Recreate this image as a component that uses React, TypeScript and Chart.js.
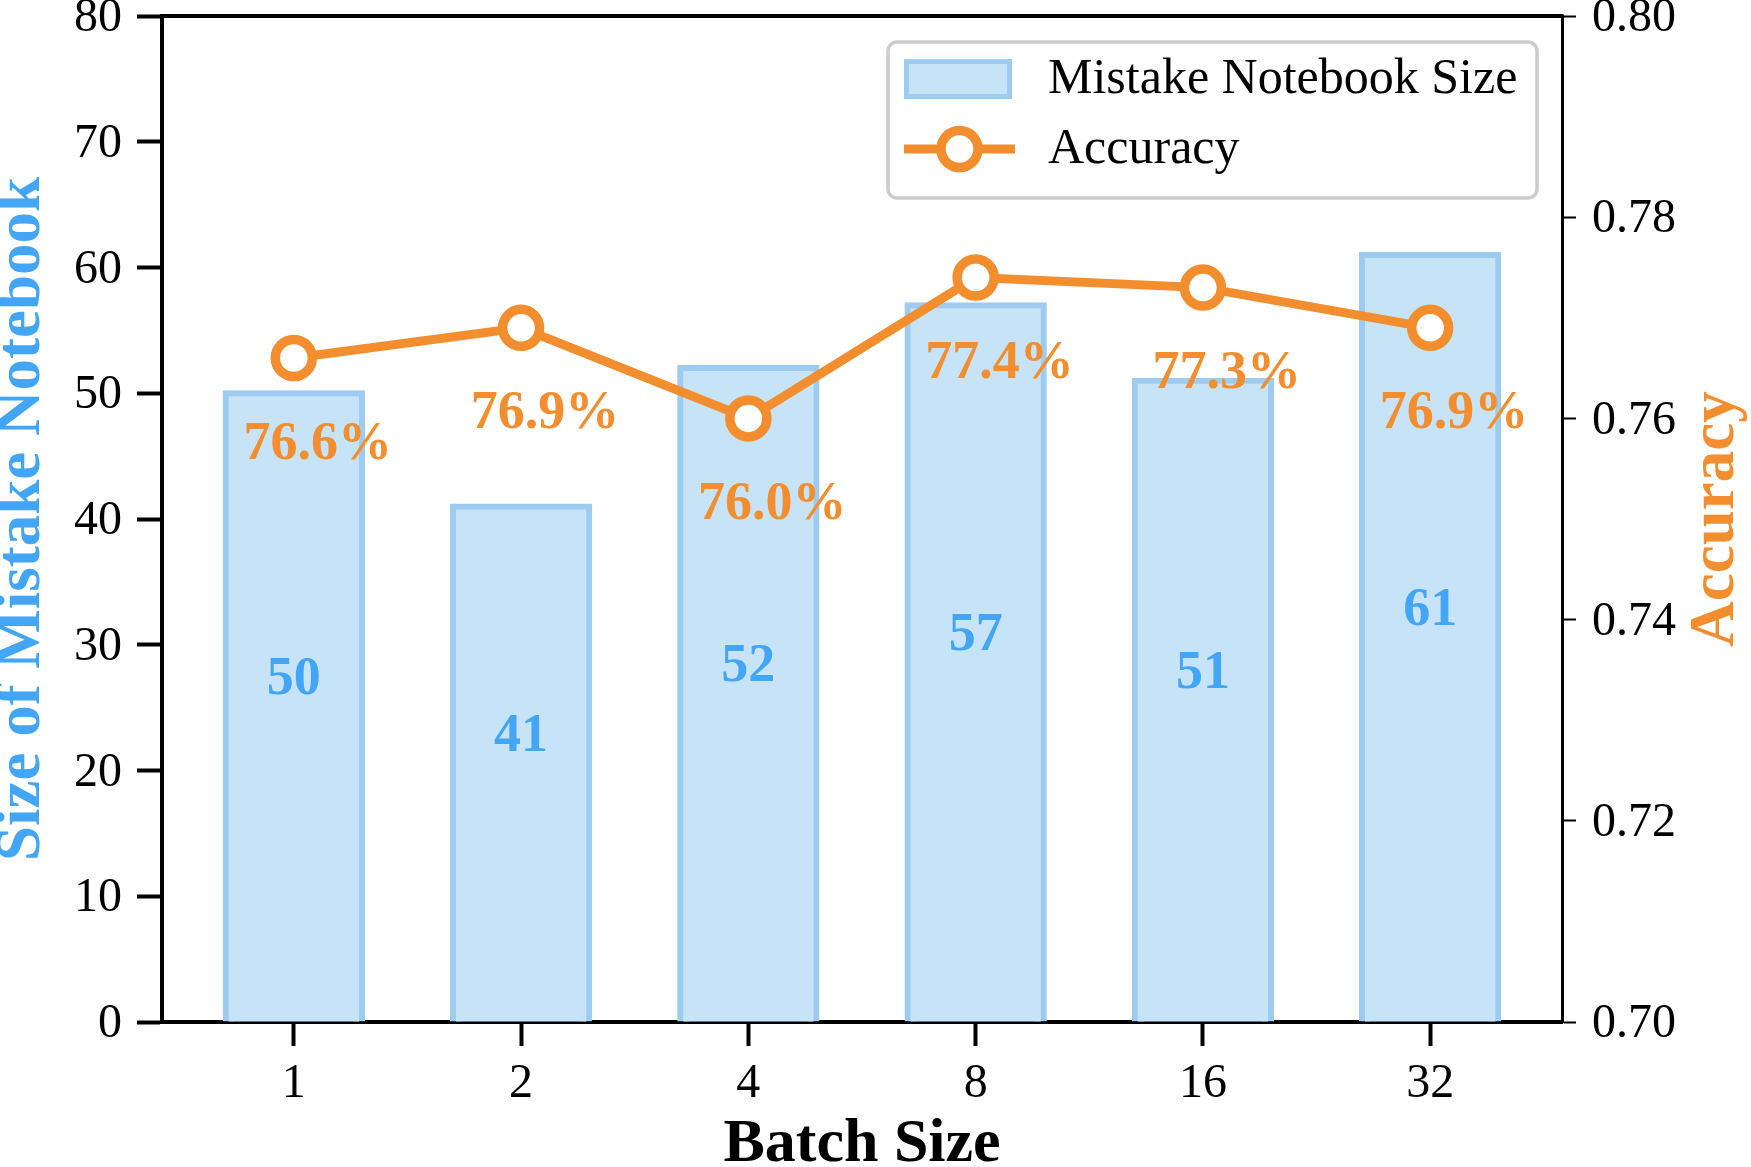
import React, { useEffect, useRef } from "react";
import { Chart, registerables } from "chart.js";

Chart.register(...registerables);

const batchSizes = ["1", "2", "4", "8", "16", "32"];
const notebookSizes = [50, 41, 52, 57, 51, 61];
const accuracy = [0.766, 0.769, 0.760, 0.774, 0.773, 0.769];
const leftTicks = [0, 10, 20, 30, 40, 50, 60, 70, 80];
const rightTicks = [0.70, 0.72, 0.74, 0.76, 0.78, 0.80];

const FONT = "'Liberation Serif', 'Times New Roman', serif";
const BLUE = "#42a5f5";
const BAR_FILL = "rgb(198,227,247)";
const BAR_EDGE = "rgb(158,203,240)";
const ORANGE = "#f28e2e";

const overlayPlugin = {
  id: "overlay",
  afterDatasetsDraw(chart: any) {
    const { ctx, scales } = chart;
    const xs = scales.x, ys = scales.y, y1 = scales.y1;
    ctx.save();
    ctx.font = `bold 54px ${FONT}`;
    ctx.fillStyle = BLUE;
    ctx.textAlign = "center";
    ctx.textBaseline = "middle";
    notebookSizes.forEach((v, i) => {
      ctx.fillText(String(v), xs.getPixelForValue(i), ys.getPixelForValue(v / 2 + 2.2));
    });
    ctx.fillStyle = ORANGE;
    accuracy.forEach((v, i) => {
      ctx.fillText(`${(v * 100).toFixed(1)}%`, xs.getPixelForValue(i + 0.105), y1.getPixelForValue(v - 0.0086));
    });
    ctx.restore();
  },
  afterDraw(chart: any) {
    const { ctx, chartArea } = chart;
    ctx.save();
    ctx.strokeStyle = "#000";
    ctx.lineWidth = 4;
    ctx.beginPath();
    ctx.moveTo(chartArea.left - 2, chartArea.top);
    ctx.lineTo(chartArea.right + 1.5, chartArea.top);
    ctx.stroke();

    ctx.save();
    ctx.translate(chartArea.right + 155, (chartArea.top + chartArea.bottom) / 2);
    ctx.rotate(-Math.PI / 2);
    ctx.font = `bold 63px ${FONT}`;
    ctx.fillStyle = ORANGE;
    ctx.textAlign = "center";
    ctx.textBaseline = "middle";
    ctx.fillText("Accuracy", 0, 0);
    ctx.restore();

    const bw = 649, bh = 156;
    const bx = chartArea.right - 25 - bw;
    const by = chartArea.top + 26;
    ctx.beginPath();
    (ctx as any).roundRect(bx, by, bw, bh, 9);
    ctx.fillStyle = "rgba(255,255,255,0.85)";
    ctx.fill();
    ctx.lineWidth = 3.5;
    ctx.strokeStyle = "#cccccc";
    ctx.stroke();

    const ds = chart.data.datasets;
    const sx = bx + 16;
    const sw = 108;
    const row1 = by + 37;
    const row2 = by + 107;
    ctx.fillStyle = BAR_FILL;
    ctx.fillRect(sx, row1 - 20, sw, 40);
    ctx.lineWidth = 5;
    ctx.strokeStyle = BAR_EDGE;
    ctx.strokeRect(sx + 2.5, row1 - 20 + 2.5, sw - 5, 35);
    ctx.strokeStyle = ORANGE;
    ctx.lineWidth = 9;
    ctx.beginPath();
    ctx.moveTo(sx, row2);
    ctx.lineTo(sx + sw + 3, row2);
    ctx.stroke();
    ctx.beginPath();
    ctx.arc(sx + (sw + 3) / 2, row2, 18.5, 0, Math.PI * 2);
    ctx.fillStyle = "#fff";
    ctx.fill();
    ctx.lineWidth = 9.5;
    ctx.stroke();
    ctx.font = `50px ${FONT}`;
    ctx.fillStyle = "#000";
    ctx.textAlign = "left";
    ctx.textBaseline = "middle";
    ctx.fillText(ds[0].label, bx + 160, row1 + 1);
    ctx.fillText(ds[1].label, bx + 160, row2 + 1);
    ctx.restore();
  },
};

export default function App() {
  const ref = useRef<HTMLCanvasElement>(null);
  useEffect(() => {
    if (!ref.current) return;
    const chart = new Chart(ref.current, {
      type: "bar",
      data: {
        datasets: [
          {
            type: "bar",
            label: "Mistake Notebook Size",
            data: notebookSizes.map((v, i) => ({ x: i, y: v })),
            yAxisID: "y",
            xAxisID: "x",
            backgroundColor: BAR_FILL,
            borderColor: BAR_EDGE,
            borderWidth: 6,
            borderSkipped: "start",
            barPercentage: 0.6,
            categoryPercentage: 1,
            inflateAmount: 3,
            order: 2,
          } as any,
          {
            type: "line",
            label: "Accuracy",
            data: accuracy.map((v, i) => ({ x: i, y: v })),
            yAxisID: "y1",
            xAxisID: "x",
            borderColor: ORANGE,
            borderWidth: 9,
            pointRadius: 18.5,
            pointHoverRadius: 18.5,
            pointBorderWidth: 9.5,
            pointBackgroundColor: "#ffffff",
            pointBorderColor: ORANGE,
            tension: 0,
            clip: false,
            order: 1,
          } as any,
        ],
      },
      options: {
        animation: false,
        responsive: false,
        devicePixelRatio: 1,
        layout: { autoPadding: false, padding: { top: 16, bottom: 0, left: 0, right: 0 } },
        plugins: { legend: { display: false }, tooltip: { enabled: false } },
        scales: {
          x: {
            type: "linear",
            min: -0.58,
            max: 5.58,
            offset: false,
            afterBuildTicks: (s: any) => {
              s.ticks = batchSizes.map((_, i) => ({ value: i }));
            },
            afterFit: (s: any) => {
              s.height = 145;
              s.paddingLeft = 0;
              s.paddingRight = 0;
            },
            ticks: {
              callback: (v: any) => batchSizes[v],
              font: { family: FONT, size: 48 },
              color: "#000",
              padding: 10,
              maxRotation: 0,
              autoSkip: false,
            },
            grid: {
              display: true,
              offset: false,
              drawOnChartArea: false,
              drawTicks: true,
              tickLength: 24,
              tickWidth: 4,
              tickColor: "#000",
            },
            border: { display: true, color: "#000", width: 4 },
            title: {
              display: true,
              text: "Batch Size",
              color: "#000",
              font: { family: FONT, size: 62, weight: "bold", lineHeight: 0.71 },
              padding: 0,
            },
          },
          y: {
            type: "linear",
            position: "left",
            min: 0,
            max: 80,
            afterBuildTicks: (s: any) => {
              s.ticks = leftTicks.map((v) => ({ value: v }));
            },
            afterFit: (s: any) => {
              s.width = 162;
              s.paddingTop = 0;
              s.paddingBottom = 0;
            },
            ticks: {
              font: { family: FONT, size: 48 },
              color: "#000",
              padding: 15,
              labelOffset: 2.5,
            },
            grid: {
              display: true,
              drawOnChartArea: false,
              drawTicks: true,
              tickLength: 25,
              tickWidth: 4,
              tickColor: "#000",
            },
            border: { display: true, color: "#000", width: 4 },
            title: {
              display: true,
              text: "Size of Mistake Notebook",
              color: BLUE,
              font: { family: FONT, size: 63, weight: "bold", lineHeight: 0.71 },
              padding: 0,
            },
          },
          y1: {
            type: "linear",
            position: "right",
            min: 0.7,
            max: 0.8,
            afterBuildTicks: (s: any) => {
              s.ticks = rightTicks.map((v) => ({ value: v }));
            },
            afterFit: (s: any) => {
              s.width = 189;
              s.paddingTop = 0;
              s.paddingBottom = 0;
            },
            ticks: {
              callback: (v: any) => Number(v).toFixed(2),
              font: { family: FONT, size: 48 },
              color: "#000",
              padding: 16,
              labelOffset: 2.5,
            },
            grid: {
              display: true,
              drawOnChartArea: false,
              drawTicks: true,
              tickLength: 14,
              tickWidth: 2,
              tickColor: "#000",
            },
            border: { display: true, color: "#000", width: 3 },
            title: { display: false },
          },
        },
      } as any,
      plugins: [overlayPlugin],
    });
    return () => chart.destroy();
  }, []);

  return (
    <div style={{ position: "absolute", left: 0, top: 0, width: 1751, height: 1167, background: "#fff" }}>
      <canvas ref={ref} width={1751} height={1167} style={{ width: 1751, height: 1167, display: "block" }} />
    </div>
  );
}
